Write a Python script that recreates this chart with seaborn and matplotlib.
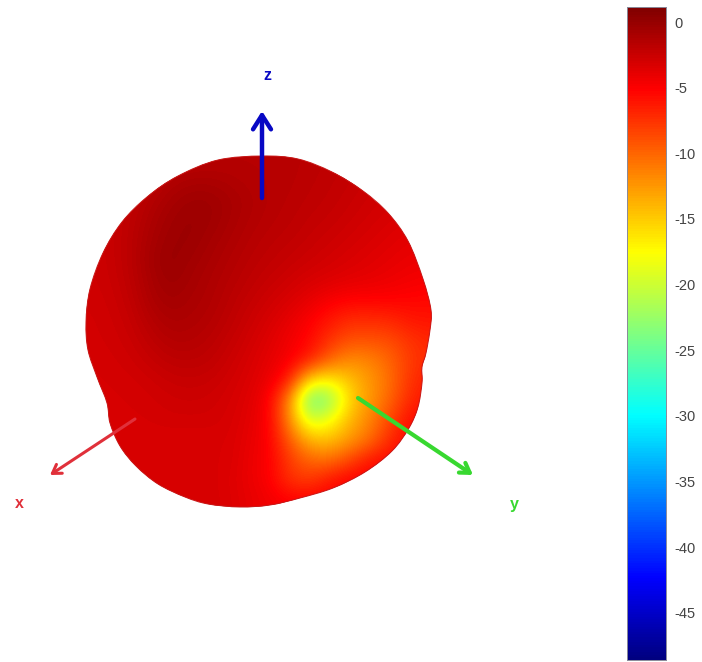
import numpy as np
import pandas as pd
import matplotlib
matplotlib.use("Agg")
import matplotlib.pyplot as plt
from matplotlib.colors import LinearSegmentedColormap
from matplotlib.path import Path
from matplotlib.patches import PathPatch
import seaborn as sns

# dB on a 20 px lattice (rows top to bottom)
grid_x0, grid_y0, cell = 80, 150, 20
row_160 = [-2.5,-2.5,-2.5,-2.3,-2.0,-1.8,-1.7,-1.6,-1.6,-1.6,-1.7,-1.8,-2.0,-2.2,-2.5,-2.8,-3.0,-3.0]
row_180 = [-2.5,-2.5,-2.4,-2.0,-1.4,-1.1,-1.1,-1.3,-1.5,-1.6,-1.7,-1.9,-2.1,-2.3,-2.6,-2.8,-3.0,-3.0]
row_200 = [-2.5,-2.5,-2.2,-1.5,-0.9,-0.5,-0.5,-0.9,-1.3,-1.6,-1.8,-2.0,-2.2,-2.5,-2.8,-3.0,-3.2,-3.2]
row_220 = [-2.6,-2.5,-2.0,-1.2,-0.6,-0.3,-0.5,-1.0,-1.4,-1.7,-1.9,-2.2,-2.4,-2.7,-3.0,-3.3,-3.5,-3.5]
row_240 = [-2.7,-2.5,-1.9,-1.0,-0.4,-0.3,-0.8,-1.2,-1.6,-1.9,-2.1,-2.4,-2.7,-3.0,-3.3,-3.6,-3.9,-4.0]
row_260 = [-2.8,-2.5,-1.9,-0.8,-0.2,-0.6,-1.0,-1.4,-1.8,-2.1,-2.4,-2.7,-3.0,-3.3,-3.6,-3.9,-4.2,-4.3]
row_280 = [-2.8,-2.6,-2.0,-1.0,-0.4,-0.8,-1.2,-1.6,-2.0,-2.4,-2.8,-3.2,-3.5,-3.8,-4.0,-4.3,-4.6,-4.8]
row_300 = [-2.9,-2.7,-2.2,-1.2,-0.7,-1.0,-1.3,-1.8,-2.3,-2.8,-3.3,-4.0,-4.8,-5.2,-5.2,-5.2,-5.3,-5.5]
row_320 = [-3.0,-2.8,-2.4,-1.6,-1.1,-1.2,-1.5,-2.0,-2.6,-3.2,-4.0,-5.0,-6.2,-7.2,-7.2,-7.0,-6.2,-6.0]
row_340 = [-3.0,-2.9,-2.6,-2.0,-1.5,-1.5,-1.8,-2.3,-2.9,-3.6,-4.5,-5.5,-7.5,-9.0,-9.0,-8.8,-7.5,-7.0]
row_360 = [-3.1,-3.0,-2.8,-2.4,-2.0,-1.9,-2.1,-2.6,-3.2,-3.9,-4.8,-6.5,-10.0,-12.0,-11.5,-10.0,-8.0,-7.0]
row_380 = [-3.2,-3.1,-3.0,-2.8,-2.5,-2.4,-2.5,-2.9,-3.4,-4.2,-6.5,-16.0,-17.0,-14.5,-12.5,-10.5,-7.5,-6.5]
row_400 = [-3.2,-3.2,-3.1,-3.0,-2.8,-2.7,-2.8,-3.1,-3.6,-5.0,-12.0,-25.5,-23.0,-15.5,-12.5,-10.0,-7.0,-6.0]
row_420 = [-3.3,-3.2,-3.2,-3.1,-3.0,-3.0,-3.0,-3.2,-3.8,-5.0,-12.0,-20.0,-18.0,-14.0,-11.5,-8.5,-5.5,-5.5]
row_440 = [-3.3,-3.3,-3.3,-3.3,-3.3,-3.3,-3.3,-3.3,-4.0,-5.0,-9.5,-14.0,-14.5,-12.5,-10.5,-7.0,-5.5,-5.5]
row_460 = [-3.3,-3.3,-3.3,-3.3,-3.3,-3.3,-3.3,-3.3,-4.2,-5.0,-8.0,-10.0,-10.5,-8.5,-6.0,-5.5,-5.5,-5.5]
row_480 = [-3.2,-3.2,-3.2,-3.2,-3.2,-3.2,-3.2,-3.5,-4.2,-5.0,-7.5,-8.0,-6.0,-5.0,-5.0,-5.0,-5.0,-5.0]
row_500 = [-3.2,-3.2,-3.2,-3.2,-3.2,-3.2,-3.2,-3.4,-4.0,-4.5,-5.0,-5.0,-5.0,-5.0,-5.0,-5.0,-5.0,-5.0]
rows = [row_160,row_180,row_200,row_220,row_240,row_260,row_280,row_300,row_320,
        row_340,row_360,row_380,row_400,row_420,row_440,row_460,row_480,row_500]

outline_x = [262,298,332,363,388,408,423,431,430,426,422,422,418,409,392,365,333,300,270,240,208,185,158,136,120,110,107,97,88,86,90,103,122,147,178,218]
outline_y = [156,159,172,191,213,241,279,310,330,353,367,383,407,428,451,472,488,498,505,507,504,497,484,466,446,423,403,377,350,322,289,253,222,197,176,160]

axis_names = ["x", "y", "z"]
axis_tail_x = [135, 358, 262]
axis_tail_y = [419, 398, 198]
axis_tip_x = [50, 473, 262]
axis_tip_y = [475, 475, 111]
axis_label_x = [19, 514, 267]
axis_label_y = [503, 504, 76]
axis_colors = ["#e0303a", "#38d830", "#0808c4"]
axis_widths = [2.2, 3.0, 3.2]
axis_heads = [10, 11, 17]

cbar_ticks = [0, -5, -10, -15, -20, -25, -30, -35, -40, -45]
vmin, vmax = -48.6, 1.15
jet_stops = [(0.0, "#000080"), (0.125, "#0000ff"), (0.375, "#00ffff"),
             (0.625, "#ffff00"), (0.875, "#ff0000"), (1.0, "#800000")]
jet_like = LinearSegmentedColormap.from_list("jet_like", jet_stops, N=256)

W, H = 702, 662
sns.set_style("white")
plt.rcParams["font.family"] = ["Liberation Sans", "DejaVu Sans"]
fig = plt.figure(figsize=(W / 100, H / 100), dpi=100, facecolor="white")

def box(x0, y0, x1, y1):
    return [x0 / W, 1 - y1 / H, (x1 - x0) / W, (y1 - y0) / H]

table = pd.DataFrame(rows)
n_r, n_c = table.shape
ax = fig.add_axes(box(grid_x0, grid_y0, grid_x0 + n_c * cell, grid_y0 + n_r * cell))
cax = fig.add_axes(box(627, 7, 666, 660))
sns.heatmap(table, ax=ax, cbar_ax=cax, cmap=jet_like, vmin=vmin, vmax=vmax,
            xticklabels=False, yticklabels=False, cbar_kws={"ticks": cbar_ticks})
img = ax.imshow(table.values, cmap=jet_like, vmin=vmin, vmax=vmax, extent=(0, n_c, n_r, 0),
                interpolation="bicubic", aspect="auto", zorder=2)
ax.set_xlim(0, n_c)
ax.set_ylim(n_r, 0)
ax.axis("off")

# Smooth closed outline of the lobe (Catmull-Rom to Bezier)
px = (np.array(outline_x) - grid_x0) / cell
py = (np.array(outline_y) - grid_y0) / cell
P = np.column_stack([px, py])
N = len(P)
verts, codes = [P[0]], [Path.MOVETO]
for i in range(N):
    p0, p1, p2, p3 = P[i - 1], P[i], P[(i + 1) % N], P[(i + 2) % N]
    verts += [p1 + (p2 - p0) / 6, p2 - (p3 - p1) / 6, p2]
    codes += [Path.CURVE4] * 3
shape = PathPatch(Path(verts, codes), transform=ax.transData, facecolor="none",
                  edgecolor="#c81818", lw=0.7, zorder=3, clip_on=False)
ax.add_patch(shape)
ax.collections[0].set_clip_path(shape)
img.set_clip_path(shape)

# Colour bar
cax.tick_params(axis="y", direction="in", length=4, width=0.6, color="#333333",
                labelsize=10.5, labelcolor="#444444", pad=6, right=True, left=False)
for s in cax.spines.values():
    s.set_visible(True)
    s.set_linewidth(0.6)
    s.set_edgecolor("#8a8a9a")
cax.set_yticklabels([str(t) for t in cbar_ticks])

# Axis arrows and labels in pixel space
top = fig.add_axes([0, 0, 1, 1], facecolor="none")
top.set_xlim(0, W)
top.set_ylim(H, 0)
top.axis("off")
for name, x0, y0, x1, y1, lx, ly, c, w, hs in zip(axis_names, axis_tail_x, axis_tail_y, axis_tip_x,
                                                  axis_tip_y, axis_label_x, axis_label_y,
                                                  axis_colors, axis_widths, axis_heads):
    top.annotate("", xy=(x1, y1), xytext=(x0, y0),
                 arrowprops=dict(arrowstyle="->,head_length=0.6,head_width=0.38", color=c,
                                 lw=w, shrinkA=0, shrinkB=0, mutation_scale=hs))
    top.text(lx, ly, name, color=c, fontsize=11.5, fontweight="bold", ha="center", va="center")

fig.savefig("out.png", dpi=100, facecolor="white")
